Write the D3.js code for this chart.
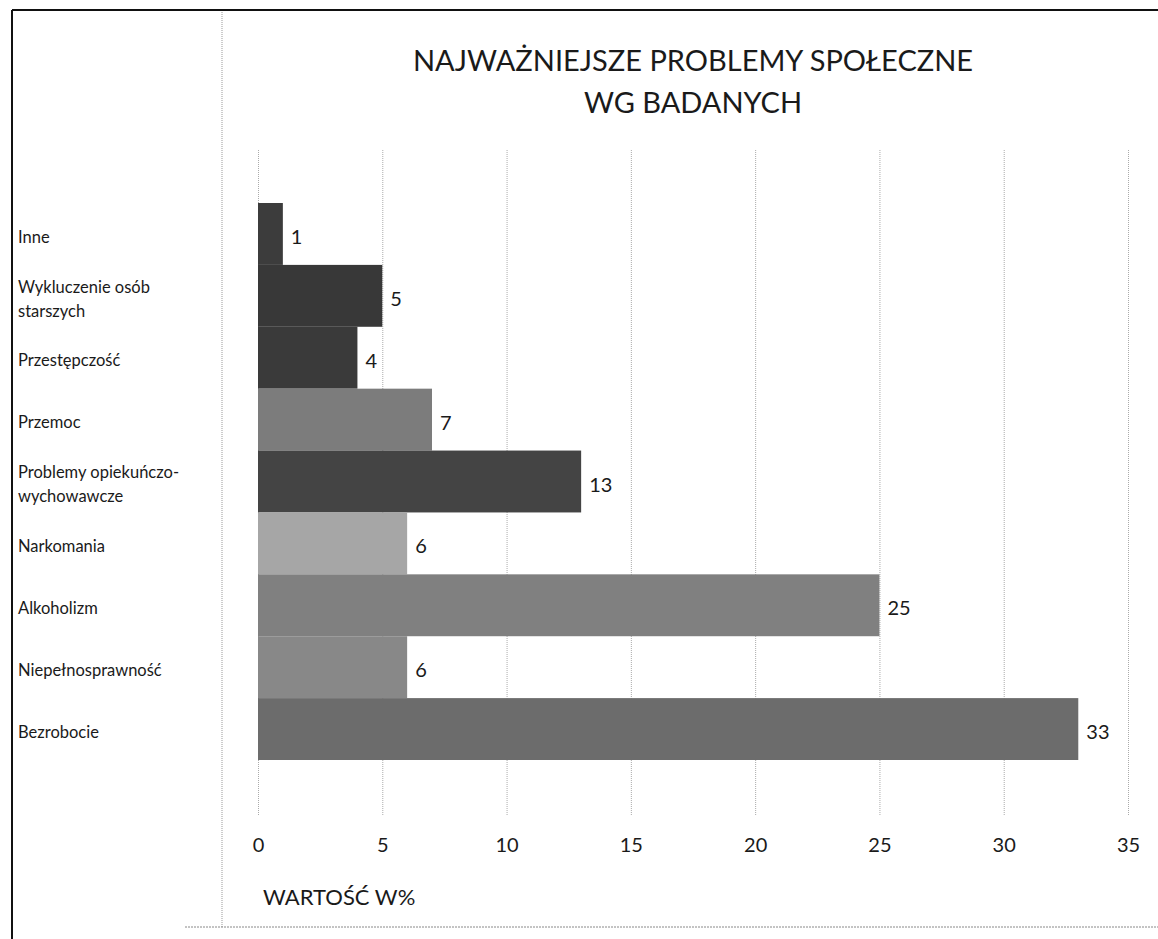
<!DOCTYPE html>
<html>
<head>
<meta charset="utf-8">
<script src="https://cdn.jsdelivr.net/npm/d3@7"></script>
<style>
  body { margin: 0; background: #fff; }
  svg text { font-family: Lato, "Open Sans", sans-serif; fill: #1a1a1a; }
</style>
</head>
<body>
<svg width="1158" height="939"></svg>
<script>
// data
var categories = ["Inne", "Wykluczenie osób\nstarszych", "Przestępczość", "Przemoc",
  "Problemy opiekuńczo-\nwychowawcze", "Narkomania", "Alkoholizm", "Niepełnosprawność", "Bezrobocie"];
var values = [1, 5, 4, 7, 13, 6, 25, 6, 33];
var ticks = [0, 5, 10, 15, 20, 25, 30, 35];
var titleLines = ["NAJWAŻNIEJSZE PROBLEMY SPOŁECZNE", "WG BADANYCH"];
var axisTitle = "WARTOŚĆ W%";

// bar shades (scanned grays)
var shades = ["#3c3c3c", "#383838", "#3a3a3a", "#7c7c7c", "#444444", "#a6a6a6", "#808080", "#888888", "#6c6c6c"];

var svg = d3.select("svg"),
    width = +svg.attr("width"),
    height = +svg.attr("height");

var x = d3.scaleLinear().domain([0, 35]).range([258, 1128]);
var y = d3.scaleBand().domain(categories).range([203, 760]).padding(0);
var color = d3.scaleOrdinal().domain(categories).range(shades);

// frame of the scanned page
svg.append("line").attr("x1", 12).attr("x2", width).attr("y1", 10).attr("y2", 10)
    .style("stroke", "#111").style("stroke-width", 2);
svg.append("line").attr("x1", 12).attr("x2", 12).attr("y1", 10).attr("y2", height)
    .style("stroke", "#111").style("stroke-width", 2);
svg.append("line").attr("x1", 222).attr("x2", 222).attr("y1", 12).attr("y2", 927)
    .style("stroke", "#999").style("stroke-width", 1).style("stroke-dasharray", "1,1");
svg.append("line").attr("x1", 185).attr("x2", width).attr("y1", 927).attr("y2", 927)
    .style("stroke", "#888").style("stroke-width", 1).style("stroke-dasharray", "2,1");

// gridlines + tick labels
var gridTop = 150, gridBottom = 815;
var xAxis = svg.append("g")
    .attr("transform", "translate(0," + gridBottom + ")")
    .call(d3.axisBottom(x).tickValues(ticks).tickSize(-(gridBottom - gridTop)).tickPadding(23));
xAxis.select(".domain").remove();
xAxis.selectAll(".tick line")
    .style("stroke", "#aaa").style("stroke-dasharray", "1,1");
xAxis.selectAll(".tick text")
    .style("font-size", "20px").style("font-family", "Lato, 'Open Sans', sans-serif").attr("fill", "#1a1a1a");

// bars
svg.append("g").selectAll("rect")
    .data(values)
    .enter().append("rect")
    .attr("x", x(0))
    .attr("y", function(d, i) { return y(categories[i]); })
    .attr("width", function(d) { return x(d) - x(0); })
    .attr("height", y.bandwidth())
    .attr("fill", function(d, i) { return color(categories[i]); });

// value labels
svg.append("g").selectAll("text")
    .data(values)
    .enter().append("text")
    .attr("x", function(d) { return x(d) + 8; })
    .attr("y", function(d, i) { return y(categories[i]) + y.bandwidth() / 2 + 3; })
    .attr("dy", "0.35em")
    .style("font-size", "20px")
    .text(function(d) { return d; });

// category labels
var lab = svg.append("g").selectAll("text")
    .data(categories)
    .enter().append("text")
    .attr("x", 18)
    .attr("y", function(d) { return y(d) + y.bandwidth() / 2 + 3; })
    .style("font-size", "16.5px");
lab.each(function(d) {
  var lines = d.split("\n");
  var t = d3.select(this);
  lines.forEach(function(s, k) {
    t.append("tspan")
      .attr("x", 18)
      .attr("dy", k == 0 ? (0.35 - (lines.length - 1) * 0.73) + "em" : "1.46em")
      .text(s);
  });
});

// title
svg.append("g").selectAll("text")
    .data(titleLines)
    .enter().append("text")
    .attr("x", 693)
    .attr("y", function(d, i) { return 71 + i * 42; })
    .attr("text-anchor", "middle")
    .style("font-size", "29px")
    .text(function(d) { return d; });

// axis title
svg.append("text")
    .attr("x", 263)
    .attr("y", 905)
    .style("font-size", "22px")
    .text(axisTitle);
</script>
</body>
</html>
